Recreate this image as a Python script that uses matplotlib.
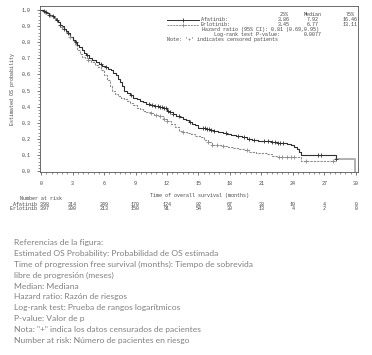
import numpy as np
import matplotlib
matplotlib.use("Agg")
import matplotlib.pyplot as plt
import matplotlib.transforms as mtransforms

# Kaplan-Meier curves
afa_t = [0, 0.2, 0.4, 0.6, 0.8, 1.0, 1.2, 1.4, 1.6, 1.8, 2.0, 2.2, 2.4, 2.6, 2.8, 3.0, 3.2, 3.4,
         3.6, 3.86, 4.1, 4.3, 4.6, 4.9, 5.2, 5.5, 5.8, 6.1, 6.4, 6.7, 6.9, 7.1, 7.3, 7.5, 7.7,
         7.92, 8.2, 8.5, 8.8, 9.1, 9.4, 9.7, 10.0, 10.4, 10.8, 11.2, 11.6, 12.0, 12.3, 12.6,
         12.9, 13.2, 13.5, 13.8, 14.1, 14.4, 14.7, 15.0, 15.3, 15.7, 16.1, 16.5, 16.9, 17.3,
         17.7, 18.1, 18.6, 19.1, 19.6, 20.1, 20.7, 21.3, 21.9, 22.5, 23.0, 23.4, 23.8, 24.1,
         24.4, 24.6, 24.8, 28.1, 29.9]
afa_s = [1.0, 0.995, 0.99, 0.98, 0.97, 0.96, 0.95, 0.94, 0.925, 0.91, 0.90, 0.885, 0.87,
         0.855, 0.835, 0.815, 0.80, 0.785, 0.77, 0.75, 0.735, 0.72, 0.705, 0.69, 0.68, 0.665,
         0.655, 0.645, 0.635, 0.625, 0.61, 0.595, 0.575, 0.555, 0.53, 0.50, 0.485, 0.47,
         0.455, 0.445, 0.435, 0.428, 0.42, 0.413, 0.405, 0.398, 0.39, 0.375, 0.365, 0.355,
         0.345, 0.335, 0.325, 0.315, 0.305, 0.295, 0.285, 0.27, 0.265, 0.262, 0.258, 0.25,
         0.242, 0.237, 0.232, 0.225, 0.218, 0.21, 0.2, 0.195, 0.19, 0.185, 0.182, 0.178,
         0.175, 0.168, 0.16, 0.15, 0.135, 0.12, 0.10, 0.075, 0.0]
erl_t = [0, 0.2, 0.4, 0.6, 0.8, 1.0, 1.2, 1.4, 1.6, 1.8, 2.0, 2.2, 2.4, 2.6, 2.8, 3.0, 3.2, 3.45,
         3.7, 3.9, 4.2, 4.5, 4.8, 5.1, 5.4, 5.7, 6.0, 6.3, 6.55, 6.77, 7.0, 7.3, 7.6, 7.9, 8.2,
         8.5, 8.8, 9.1, 9.4, 9.7, 10.0, 10.4, 10.8, 11.2, 11.6, 12.0, 12.4, 12.8, 13.11, 13.5,
         13.9, 14.3, 14.7, 15.1, 15.5, 15.9, 16.3, 16.8, 17.3, 17.8, 18.3, 18.8, 19.3, 19.8,
         20.5, 21.5, 22.0, 22.5, 24.8, 28.0]
erl_s = [1.0, 0.995, 0.99, 0.98, 0.97, 0.96, 0.95, 0.94, 0.925, 0.91, 0.895, 0.88, 0.865,
         0.85, 0.83, 0.81, 0.785, 0.75, 0.725, 0.71, 0.70, 0.69, 0.675, 0.66, 0.645, 0.625,
         0.595, 0.565, 0.53, 0.50, 0.48, 0.465, 0.455, 0.445, 0.435, 0.425, 0.41, 0.395,
         0.385, 0.375, 0.365, 0.36, 0.35, 0.34, 0.325, 0.31, 0.295, 0.275, 0.25, 0.245, 0.24,
         0.23, 0.22, 0.21, 0.195, 0.18, 0.165, 0.16, 0.155, 0.15, 0.145, 0.14, 0.13, 0.12,
         0.11, 0.105, 0.095, 0.085, 0.065, 0.065]

afa_cens = [0.3, 0.5, 0.8, 1.1, 1.5, 1.8, 2.2, 2.6, 3.3, 4.4, 5.7, 6.2, 8.6, 10.3, 10.6, 10.9,
            11.1, 11.3, 11.5, 11.7, 11.9, 12.1, 12.3, 12.6, 13.1, 14.2, 15.4, 15.6, 15.8,
            16.0, 16.2, 16.5, 17.6, 18.8, 19.3, 19.8, 20.3, 21.2, 21.6, 22.0, 22.3, 22.6,
            22.8, 23.1, 26.4, 26.7, 28.1]
erl_cens = [0.4, 0.9, 1.3, 2.0, 2.8, 4.5, 10.5, 11.0, 11.3, 11.7, 12.0, 13.5, 15.9, 16.3,
            16.8, 17.3, 19.6, 22.7, 23.0, 23.4, 23.8, 24.1, 25.2, 27.8]

risk_times = [0, 3, 6, 9, 12, 15, 18, 21, 24, 27, 30]
afa_risk = [398, 314, 249, 170, 124, 82, 67, 38, 10, 4, 0]
erl_risk = [397, 300, 213, 150, 91, 54, 30, 13, 4, 2, 0]

notes = ["Referencias de la figura:",
         "Estimated OS Probability: Probabilidad de OS estimada",
         "Time of progression free survival (months): Tiempo de sobrevida",
         "libre de progresión (meses)",
         "Median: Mediana",
         "Hazard ratio: Razón de riesgos",
         "Log-rank test: Prueba de rangos logarítmicos",
         "P-value: Valor de p",
         "Nota: \"+\" indica los datos censurados de pacientes",
         "Number at risk: Número de pacientes en riesgo"]

W, H = 372, 355
mono = "Liberation Mono"
fs = 3.6
dark = "#303030"
grey = "#8c8c8c"


def step_at(t, s, x):
    idx = np.searchsorted(t, x, side="right") - 1
    return np.array(s)[idx]


def px(x, y):
    return x / W, 1 - y / H


fig = plt.figure(figsize=(W / 100, H / 100), dpi=100)
ax = fig.add_axes([40 / W, 1 - 172 / H, 318 / W, 166 / H])

# erlotinib first (lighter), afatinib on top
ax.step(erl_t, erl_s, where="post", color=grey, lw=0.8, ls=(0, (2, 1)))
ax.step(afa_t[:-1], afa_s[:-1], where="post", color=dark, lw=0.8)
ax.step(afa_t[-2:], afa_s[-2:], where="post", color="#b0b0b0", lw=1.4)
ax.plot(erl_cens, step_at(erl_t, erl_s, erl_cens), "+", color=grey, ms=2.5, mew=0.6)
ax.plot(afa_cens, step_at(afa_t, afa_s, afa_cens), "+", color=dark, ms=2.5, mew=0.6)

ax.set_xlim(-0.1, 30.2)
ax.set_ylim(-0.005, 1.025)
ax.set_xticks(risk_times)
ax.set_xticks(np.arange(0, 30.1, 0.5), minor=True)
ax.set_yticks(np.arange(0, 1.01, 0.1))
ax.set_yticklabels(["%.1f" % v for v in np.arange(0, 1.01, 0.1)])
ax.set_yticks(np.arange(0, 1.01, 0.02), minor=True)
ax.tick_params(labelsize=fs, width=0.5, length=2.5, color="#444444", labelcolor="#444444", pad=4)
ax.tick_params(which="minor", width=0.4, length=1.2, color="#444444")
for lab in ax.get_xticklabels() + ax.get_yticklabels():
    lab.set_family(mono)
for sp in ax.spines.values():
    sp.set_linewidth(0.6)
    sp.set_color("#555555")

ax.set_xlabel("Time of overall survival (months)", family=mono, fontsize=fs, color="#444444", labelpad=5)
ax.set_ylabel("Estimated OS probability", family=mono, fontsize=fs, color="#444444", labelpad=5)

# legend block in the top right
rows = [15, 19.8, 24.6, 29.4, 34.2, 39]
cols = [284, 313, 350]
for row_y, col, ls in [(rows[1], dark, "-"), (rows[2], grey, (0, (2, 1)))]:
    fig.add_artist(plt.Line2D([167 / W, 199 / W], [1 - row_y / H] * 2, color=col, lw=0.7, ls=ls))
    fig.add_artist(plt.Line2D([183 / W], [1 - row_y / H], marker="+", color=col, ms=2.5, mew=0.6))

tk = dict(family=mono, fontsize=fs, color="#444444", va="center")
for x, h in zip(cols, ["25%", "Median", "75%"]):
    fig.text(*px(x, rows[0]), h, ha="center", **tk)
fig.text(*px(201, rows[1]), "Afatinib:", ha="left", **tk)
fig.text(*px(201, rows[2]), "Erlotinib:", ha="left", **tk)
for y, vals in [(rows[1], ["3.86", "7.92", "16.46"]), (rows[2], ["3.45", "6.77", "13.11"])]:
    for x, v in zip(cols, vals):
        fig.text(*px(x, y), v, ha="center", **tk)
fig.text(*px(202, rows[3]), "Hazard ratio (95% CI): 0.81 (0.69,0.95)", ha="left", **tk)
fig.text(*px(214, rows[4]), "Log-rank test P-value:", ha="left", **tk)
fig.text(*px(cols[1], rows[4]), "0.0077", ha="center", **tk)
fig.text(*px(167, rows[5]), "Note: '+' indicates censored patients", ha="left", **tk)

# number at risk table
trans = mtransforms.blended_transform_factory(ax.transData, fig.transFigure)
fig.text(*px(20, 199), "Number at risk", ha="left", **tk)
fig.text(*px(49, 205), "Afatinib " + str(afa_risk[0]), ha="right", **tk)
fig.text(*px(49, 209), "Erlotinib " + str(erl_risk[0]), ha="right", **tk)
for t, a, e in zip(risk_times[1:], afa_risk[1:], erl_risk[1:]):
    ax.text(t, 1 - 205 / H, str(a), transform=trans, ha="center", **tk)
    ax.text(t, 1 - 209 / H, str(e), transform=trans, ha="center", **tk)

# translation notes under the chart
for i, line in enumerate(notes):
    fig.text(14 / W, 1 - (243 + i * 10.8) / H, line, fontsize=6.1, family="Lato",
             color="#808080", va="center", ha="left")

fig.savefig("out.png", dpi=100)
